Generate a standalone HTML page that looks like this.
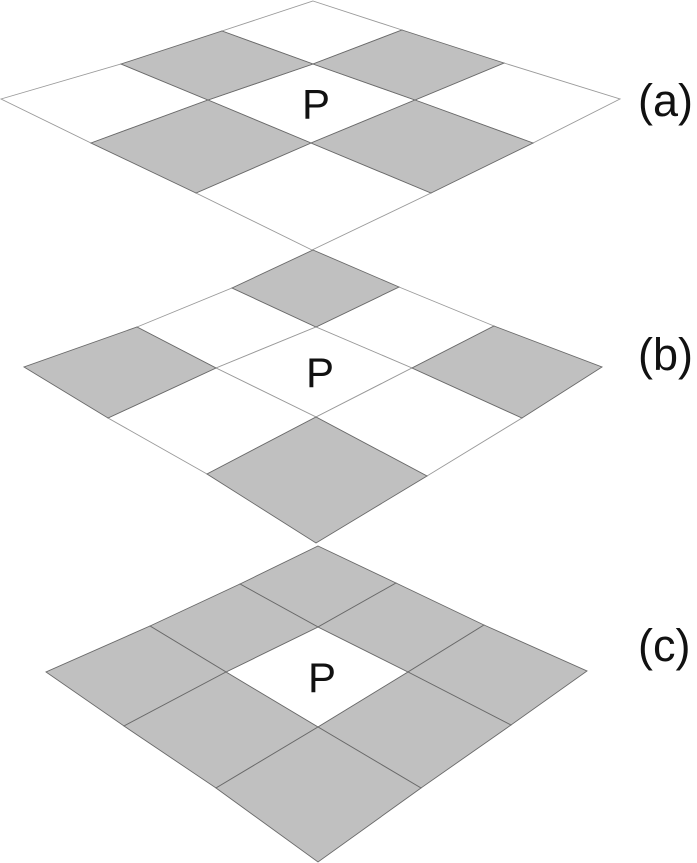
<!DOCTYPE html>
<html><head><meta charset="utf-8"><style>html,body{margin:0;padding:0;background:#fff;width:697px;height:863px;overflow:hidden}svg{display:block}</style></head>
<body>
<svg id="fig" width="697" height="863" viewBox="0 0 697 863" xmlns="http://www.w3.org/2000/svg"></svg>
<script>
// shading patterns per panel (1 = grey, 0 = white), row i along top-left edge, column j along top-right edge
const panelNames = ['a','b','c'];
const shadeA = [[0,1,0],[1,0,1],[0,1,0]];
const shadeB = [[1,0,1],[0,0,0],[1,0,1]];
const shadeC = [[1,1,1],[1,0,1],[1,1,1]];
const shades = [shadeA, shadeB, shadeC];
// grid vertex geometry (4x4 per panel)
const geom = [
 [[[313,1],[402,30],[504,63],[620,99]],[[222,31],[313,64],[415,100],[533,143]],[[121,64],[208,100],[311,143],[431,193]],[[1,99],[91,143],[196,193],[312,250]]],
 [[[313,250],[399,287],[494,326],[602,367]],[[232,288],[316,327],[412,368],[522,418]],[[137,327],[216,368],[316,417],[427,476]],[[24,367],[108,418],[207,474],[316,543]]],
 [[[318,546],[396,583],[484,625],[587,671]],[[240,584],[318,627],[408,672],[511,725]],[[150,626],[226,672],[318,727],[421,788]],[[46,672],[124,726],[216,788],[318,862]]]
];
const labelPos = [[638,116],[638,370],[638,661]];
const svg = document.getElementById('fig');
const NS = 'http://www.w3.org/2000/svg';
shades.forEach((sh, p) => {
  const V = geom[p];
  const g = document.createElementNS(NS,'g');
  
  
  svg.appendChild(g);
  [0,1].forEach(pass => {
    for (let i=0;i<3;i++) for (let j=0;j<3;j++) {
      if (sh[i][j] !== pass) continue;
      const pts = [V[i][j],V[i][j+1],V[i+1][j+1],V[i+1][j]].map(q=>q.join(',')).join(' ');
      const poly = document.createElementNS(NS,'polygon');
      poly.setAttribute('points', pts);
      poly.setAttribute('fill', sh[i][j] ? '#c0c0c0' : '#ffffff');
      poly.setAttribute('stroke', sh[i][j] ? '#6a6a6a' : '#9a9a9a');
      poly.setAttribute('stroke-width', '0.9');
      
      
      g.appendChild(poly);
    }
  });
  const c = V[1][1], d = V[2][2];
  const t = document.createElementNS(NS,'text');
  const cx = (c[0]+d[0])/2 + 4, cy = (c[1]+d[1])/2 + 15;
  t.setAttribute('x', cx);
  t.setAttribute('y', cy);
  t.setAttribute('text-anchor', 'middle');
  t.setAttribute('font-family', 'Liberation Sans, Arial, sans-serif');
  t.setAttribute('font-size', '42');
  t.setAttribute('fill', '#111');
  t.textContent = 'P';
  
  
  g.appendChild(t);
  const l = document.createElementNS(NS,'text');
  l.setAttribute('x', labelPos[p][0]);
  l.setAttribute('y', labelPos[p][1]);
  l.setAttribute('font-family', 'Liberation Sans, Arial, sans-serif');
  l.setAttribute('font-size', '45');
  l.setAttribute('fill', '#111');
  l.textContent = '(' + panelNames[p] + ')';
  
  
  g.appendChild(l);
});
</script>
</body></html>
